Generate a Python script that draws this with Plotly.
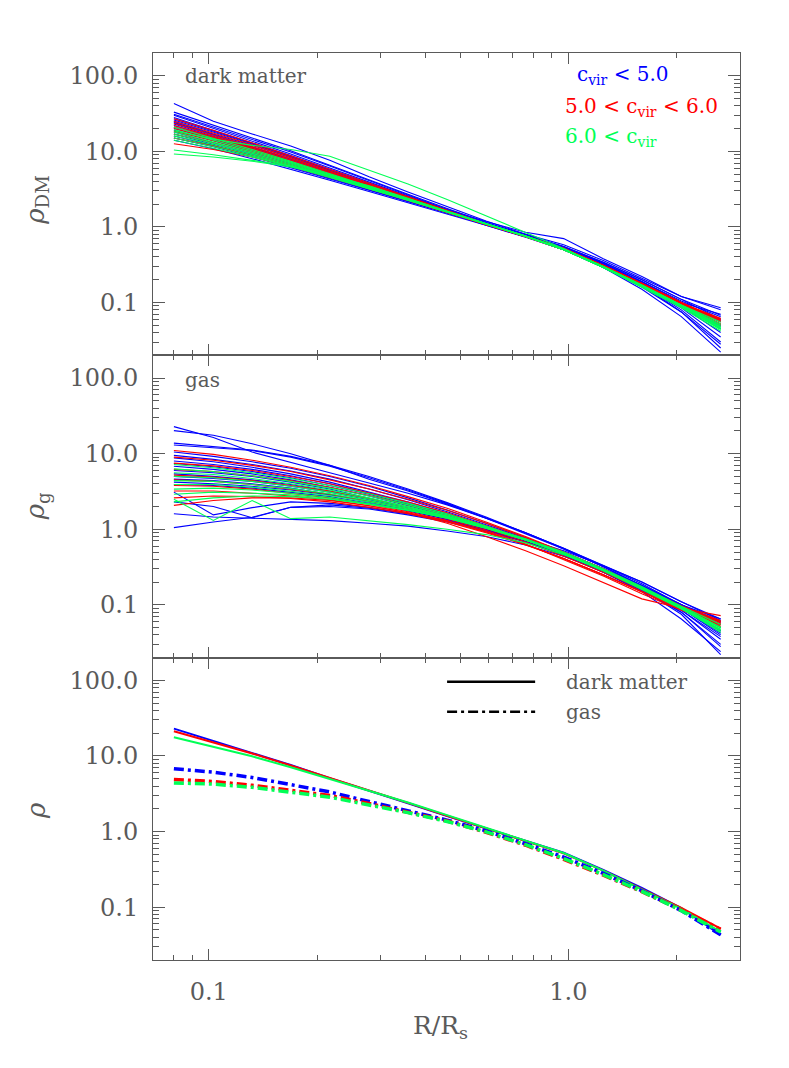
import plotly.graph_objects as go

# radius bins in units of R_s
R = [0.080, 0.103, 0.132, 0.169, 0.217, 0.279, 0.358, 0.460, 0.590, 0.760, 0.970, 1.250, 1.600, 2.060, 2.650]

# dark matter profiles, one list per halo
dm_low_c = [
    [43, 25, 17, 11.8, 7.6, 4.6, 2.9, 1.85, 1.2, 0.8, 0.54, 0.32, 0.18, 0.095, 0.045],
    [33, 22, 15, 10.2, 6.5, 4.2, 2.7, 1.75, 1.15, 0.78, 0.53, 0.32, 0.185, 0.1, 0.05],
    [31, 21, 14.5, 9.8, 6.4, 4.1, 2.65, 1.7, 1.12, 0.76, 0.51, 0.3, 0.17, 0.085, 0.035],
    [30, 20, 13.5, 9.2, 6.0, 3.9, 2.55, 1.68, 1.12, 0.78, 0.55, 0.34, 0.2, 0.11, 0.06],
    [28, 19, 13, 8.8, 5.8, 3.8, 2.5, 1.65, 1.1, 0.76, 0.52, 0.31, 0.17, 0.075, 0.025],
    [26, 18, 12.5, 8.5, 5.6, 3.7, 2.45, 1.62, 1.1, 0.77, 0.54, 0.33, 0.19, 0.105, 0.065],
    [25, 17, 12, 8.2, 5.4, 3.6, 2.42, 1.63, 1.12, 0.78, 0.53, 0.32, 0.18, 0.1, 0.07],
    [24, 16.5, 11.5, 7.9, 5.3, 3.55, 2.38, 1.6, 1.1, 0.75, 0.5, 0.29, 0.15, 0.065, 0.022],
    [23, 16, 11, 7.6, 5.1, 3.45, 2.35, 1.6, 1.12, 0.8, 0.58, 0.36, 0.21, 0.12, 0.085],
    [22, 15.5, 10.8, 7.5, 5.1, 3.5, 2.4, 1.62, 1.1, 0.76, 0.52, 0.31, 0.175, 0.095, 0.055],
    [21, 15, 10.5, 7.3, 5.0, 3.4, 2.32, 1.58, 1.08, 0.75, 0.51, 0.3, 0.17, 0.09, 0.048],
    [20, 14.5, 10.2, 7.1, 4.9, 3.35, 2.3, 1.58, 1.1, 0.77, 0.53, 0.32, 0.18, 0.098, 0.058],
    [19, 13.8, 9.8, 6.9, 4.75, 3.3, 2.28, 1.58, 1.1, 0.77, 0.54, 0.33, 0.19, 0.1, 0.045],
    [18, 13, 9.4, 6.7, 4.6, 3.2, 2.22, 1.55, 1.08, 0.75, 0.52, 0.31, 0.17, 0.08, 0.03],
    [17, 12.5, 9.1, 6.5, 4.5, 3.15, 2.2, 1.54, 1.08, 0.76, 0.53, 0.32, 0.18, 0.095, 0.05],
    [16, 12, 8.8, 6.3, 4.4, 3.1, 2.18, 1.55, 1.1, 0.78, 0.55, 0.34, 0.2, 0.11, 0.068],
    [15, 11.5, 8.5, 6.1, 4.3, 3.05, 2.15, 1.52, 1.08, 0.76, 0.52, 0.31, 0.175, 0.09, 0.04],
    [14, 10.8, 8.0, 5.8, 4.15, 2.95, 2.1, 1.5, 1.06, 0.74, 0.5, 0.29, 0.16, 0.075, 0.028],
    [27, 18.5, 12.8, 8.6, 5.6, 3.6, 2.35, 1.55, 1.05, 0.73, 0.5, 0.3, 0.17, 0.09, 0.06],
    [24, 16.5, 11.5, 8.0, 5.4, 3.6, 2.45, 1.7, 1.18, 0.85, 0.7, 0.38, 0.22, 0.12, 0.08],
]
dm_mid_c = [
    [27, 19, 13, 8.8, 5.8, 3.8, 2.5, 1.65, 1.1, 0.76, 0.52, 0.31, 0.18, 0.1, 0.06],
    [25, 17.5, 12.2, 8.3, 5.5, 3.65, 2.45, 1.64, 1.1, 0.76, 0.52, 0.31, 0.18, 0.1, 0.058],
    [23.5, 16.6, 11.6, 8.0, 5.35, 3.6, 2.42, 1.63, 1.1, 0.76, 0.52, 0.31, 0.178, 0.099, 0.056],
    [22, 15.8, 11.2, 7.7, 5.2, 3.52, 2.38, 1.6, 1.09, 0.75, 0.51, 0.305, 0.175, 0.098, 0.062],
    [21, 15.2, 10.8, 7.5, 5.1, 3.48, 2.36, 1.6, 1.09, 0.75, 0.51, 0.3, 0.172, 0.096, 0.055],
    [20, 14.6, 10.4, 7.3, 5.0, 3.42, 2.33, 1.58, 1.08, 0.75, 0.51, 0.3, 0.172, 0.095, 0.052],
    [18.5, 13.8, 10, 7.1, 4.9, 3.38, 2.32, 1.58, 1.08, 0.75, 0.51, 0.3, 0.17, 0.094, 0.05],
    [17, 13, 9.5, 6.8, 4.75, 3.3, 2.28, 1.56, 1.07, 0.74, 0.5, 0.295, 0.168, 0.093, 0.052],
    [15, 11.8, 8.9, 6.5, 4.6, 3.22, 2.25, 1.55, 1.07, 0.74, 0.5, 0.295, 0.17, 0.095, 0.056],
    [12.6, 10.6, 8.4, 6.3, 4.5, 3.2, 2.25, 1.55, 1.07, 0.74, 0.5, 0.3, 0.172, 0.097, 0.06],
]
dm_high_c = [
    [18.7, 14.5, 12.0, 10.6, 8.6, 5.7, 3.7, 2.3, 1.4, 0.85, 0.52, 0.29, 0.16, 0.085, 0.042],
    [21, 15, 10.6, 7.4, 5.05, 3.45, 2.36, 1.6, 1.1, 0.76, 0.51, 0.3, 0.168, 0.092, 0.048],
    [19.5, 14.2, 10.2, 7.2, 4.95, 3.4, 2.34, 1.6, 1.09, 0.75, 0.5, 0.295, 0.166, 0.09, 0.046],
    [18, 13.4, 9.8, 7.0, 4.85, 3.35, 2.32, 1.6, 1.1, 0.76, 0.51, 0.3, 0.168, 0.09, 0.045],
    [17, 12.8, 9.4, 6.8, 4.75, 3.32, 2.3, 1.6, 1.1, 0.76, 0.51, 0.3, 0.17, 0.092, 0.05],
    [16, 12.2, 9.0, 6.6, 4.65, 3.28, 2.28, 1.58, 1.09, 0.75, 0.5, 0.29, 0.163, 0.088, 0.044],
    [15, 11.6, 8.7, 6.4, 4.55, 3.24, 2.27, 1.58, 1.09, 0.75, 0.5, 0.29, 0.164, 0.09, 0.047],
    [14, 11, 8.4, 6.3, 4.5, 3.2, 2.26, 1.58, 1.1, 0.76, 0.51, 0.3, 0.168, 0.092, 0.052],
    [10.4, 9.0, 7.6, 6.4, 4.8, 3.2, 2.25, 1.55, 1.07, 0.75, 0.5, 0.29, 0.165, 0.09, 0.045],
    [9.2, 8.4, 7.4, 6.2, 4.8, 3.5, 2.4, 1.6, 1.1, 0.76, 0.51, 0.3, 0.17, 0.093, 0.055],
]

# gas profiles
gas_low_c = [
    [22.8, 16.4, 10.5, 7.6, 5.6, 4.1, 3.0, 2.1, 1.4, 0.9, 0.56, 0.33, 0.19, 0.1, 0.05],
    [20.2, 17.5, 13.5, 10.0, 7.0, 4.6, 3.2, 2.15, 1.4, 0.88, 0.55, 0.32, 0.18, 0.095, 0.045],
    [13.8, 12.5, 11.2, 9.2, 7.0, 5.0, 3.4, 2.25, 1.45, 0.9, 0.55, 0.32, 0.18, 0.1, 0.055],
    [13.0, 12.0, 11.0, 9.0, 6.8, 4.8, 3.3, 2.2, 1.42, 0.9, 0.56, 0.33, 0.2, 0.11, 0.062],
    [10.5, 9.2, 7.8, 6.4, 5.0, 3.7, 2.6, 1.8, 1.2, 0.78, 0.5, 0.3, 0.17, 0.09, 0.04],
    [9.5, 8.4, 7.2, 5.9, 4.6, 3.4, 2.45, 1.7, 1.15, 0.76, 0.49, 0.3, 0.175, 0.1, 0.06],
    [8.8, 7.8, 6.6, 5.4, 4.2, 3.1, 2.3, 1.62, 1.1, 0.74, 0.48, 0.29, 0.17, 0.095, 0.05],
    [8.0, 7.2, 6.2, 5.1, 4.0, 3.0, 2.2, 1.56, 1.07, 0.72, 0.47, 0.28, 0.16, 0.085, 0.038],
    [7.4, 6.7, 5.8, 4.8, 3.8, 2.9, 2.15, 1.55, 1.07, 0.72, 0.48, 0.3, 0.18, 0.1, 0.065],
    [6.8, 6.2, 5.4, 4.5, 3.6, 2.75, 2.05, 1.5, 1.05, 0.72, 0.48, 0.29, 0.165, 0.08, 0.028],
    [6.0, 5.6, 5.0, 4.2, 3.4, 2.6, 1.95, 1.45, 1.03, 0.71, 0.47, 0.29, 0.17, 0.092, 0.045],
    [5.4, 5.0, 4.5, 3.9, 3.2, 2.5, 1.9, 1.42, 1.02, 0.71, 0.48, 0.3, 0.18, 0.1, 0.058],
    [4.6, 4.4, 4.0, 3.5, 2.9, 2.3, 1.8, 1.36, 0.99, 0.69, 0.46, 0.28, 0.16, 0.075, 0.022],
    [3.9, 3.8, 3.5, 3.1, 2.7, 2.2, 1.75, 1.35, 0.99, 0.7, 0.48, 0.3, 0.18, 0.1, 0.05],
    [3.1, 1.55, 1.93, 2.3, 2.2, 1.95, 1.6, 1.3, 0.98, 0.7, 0.47, 0.29, 0.17, 0.09, 0.042],
    [2.3, 2.0, 1.42, 1.95, 2.0, 1.85, 1.55, 1.25, 0.95, 0.68, 0.46, 0.28, 0.16, 0.085, 0.035],
    [1.05, 1.25, 1.44, 1.95, 2.1, 1.9, 1.6, 1.3, 0.97, 0.68, 0.45, 0.27, 0.155, 0.08, 0.03],
    [1.6, 1.45, 1.4, 1.35, 1.3, 1.2, 1.1, 0.95, 0.8, 0.62, 0.44, 0.28, 0.17, 0.098, 0.06],
    [4.2, 4.0, 3.7, 3.3, 2.85, 2.35, 1.85, 1.42, 1.05, 0.75, 0.52, 0.33, 0.2, 0.11, 0.065],
    [5.0, 4.7, 4.3, 3.7, 3.1, 2.45, 1.88, 1.4, 1.0, 0.7, 0.46, 0.27, 0.15, 0.065, 0.024],
]
gas_mid_c = [
    [11.0, 9.8, 8.2, 6.6, 5.1, 3.8, 2.7, 1.9, 1.25, 0.8, 0.5, 0.3, 0.17, 0.095, 0.06],
    [9.0, 8.2, 7.0, 5.8, 4.5, 3.4, 2.5, 1.78, 1.2, 0.78, 0.5, 0.3, 0.17, 0.097, 0.062],
    [7.5, 6.9, 6.0, 5.0, 4.0, 3.05, 2.3, 1.65, 1.12, 0.74, 0.48, 0.29, 0.165, 0.095, 0.055],
    [6.2, 5.8, 5.1, 4.4, 3.6, 2.8, 2.1, 1.55, 1.08, 0.72, 0.47, 0.285, 0.165, 0.095, 0.058],
    [5.2, 4.9, 4.4, 3.8, 3.2, 2.55, 1.95, 1.45, 1.02, 0.68, 0.44, 0.27, 0.16, 0.092, 0.052],
    [4.5, 4.3, 3.9, 3.4, 2.9, 2.35, 1.85, 1.38, 0.97, 0.64, 0.4, 0.24, 0.14, 0.085, 0.055],
    [3.8, 3.7, 3.4, 3.0, 2.6, 2.15, 1.7, 1.3, 0.93, 0.63, 0.41, 0.25, 0.15, 0.088, 0.056],
    [3.2, 3.2, 3.0, 2.75, 2.45, 2.05, 1.65, 1.28, 0.92, 0.63, 0.41, 0.25, 0.148, 0.087, 0.054],
    [2.6, 2.75, 2.7, 2.55, 2.3, 1.95, 1.6, 1.25, 0.9, 0.62, 0.41, 0.25, 0.15, 0.09, 0.06],
    [2.07, 2.4, 2.6, 2.6, 2.4, 2.05, 1.65, 1.2, 0.8, 0.52, 0.33, 0.2, 0.12, 0.09, 0.072],
]
gas_high_c = [
    [7.2, 6.5, 5.6, 4.7, 3.8, 2.95, 2.2, 1.6, 1.1, 0.74, 0.48, 0.29, 0.17, 0.095, 0.05],
    [6.3, 5.8, 5.1, 4.3, 3.5, 2.75, 2.1, 1.55, 1.08, 0.73, 0.48, 0.29, 0.165, 0.09, 0.048],
    [5.6, 5.3, 4.7, 4.0, 3.3, 2.6, 2.0, 1.5, 1.06, 0.72, 0.47, 0.285, 0.165, 0.092, 0.05],
    [5.0, 4.8, 4.3, 3.7, 3.1, 2.5, 1.95, 1.48, 1.06, 0.72, 0.47, 0.28, 0.16, 0.088, 0.045],
    [4.4, 4.3, 3.9, 3.45, 2.95, 2.4, 1.9, 1.45, 1.05, 0.72, 0.48, 0.29, 0.165, 0.09, 0.047],
    [3.9, 3.9, 3.6, 3.2, 2.8, 2.3, 1.85, 1.43, 1.04, 0.72, 0.48, 0.29, 0.168, 0.092, 0.05],
    [3.4, 3.5, 3.3, 3.0, 2.65, 2.2, 1.8, 1.4, 1.03, 0.72, 0.48, 0.29, 0.168, 0.092, 0.046],
    [2.5, 1.31, 2.4, 1.38, 1.45, 1.3, 1.15, 1.0, 0.85, 0.66, 0.46, 0.29, 0.17, 0.09, 0.043],
    [2.9, 3.1, 3.0, 2.85, 2.55, 2.15, 1.78, 1.4, 1.03, 0.72, 0.48, 0.29, 0.165, 0.09, 0.05],
    [2.3, 2.6, 2.75, 2.7, 2.5, 2.15, 1.78, 1.42, 1.06, 0.75, 0.5, 0.3, 0.175, 0.096, 0.055],
]

# stacked (mean) profiles per concentration bin
dm_mean = {
    "low": [23.0, 15.8, 11.0, 7.6, 5.1, 3.5, 2.37, 1.6, 1.1, 0.765, 0.525, 0.31, 0.18, 0.097, 0.043],
    "mid": [21.2, 15.2, 10.8, 7.5, 5.15, 3.52, 2.4, 1.62, 1.1, 0.76, 0.515, 0.305, 0.174, 0.098, 0.052],
    "high": [17.7, 13.3, 9.9, 7.1, 5.0, 3.5, 2.42, 1.65, 1.12, 0.77, 0.52, 0.305, 0.172, 0.095, 0.047],
}
gas_mean = {
    "low": [6.8, 6.1, 5.2, 4.2, 3.35, 2.5, 1.9, 1.42, 1.02, 0.69, 0.46, 0.28, 0.165, 0.09, 0.043],
    "mid": [4.9, 4.6, 4.1, 3.55, 3.0, 2.35, 1.82, 1.38, 0.98, 0.66, 0.43, 0.265, 0.16, 0.092, 0.051],
    "high": [4.4, 4.25, 3.85, 3.35, 2.85, 2.25, 1.78, 1.36, 0.99, 0.67, 0.44, 0.27, 0.162, 0.09, 0.047],
}

colors = {"low": "#0000ff", "mid": "#ff0000", "high": "#00ff55"}
txt = "#5a5a5a"
font_family = "DejaVu Serif"
dashdot = "10px,4px,3px,4px"

fig = go.Figure()

panels = [
    ("x", "y", {"low": dm_low_c, "mid": dm_mid_c, "high": dm_high_c}),
    ("x2", "y2", {"low": gas_low_c, "mid": gas_mid_c, "high": gas_high_c}),
]
for xa, ya, groups in panels:
    for key in ["low", "mid", "high"]:
        for prof in groups[key]:
            fig.add_trace(go.Scatter(x=R, y=prof, mode="lines", xaxis=xa, yaxis=ya,
                                     line=dict(color=colors[key], width=1.1),
                                     showlegend=False, hoverinfo="skip"))

for key in ["low", "mid", "high"]:
    fig.add_trace(go.Scatter(x=R, y=dm_mean[key], mode="lines", xaxis="x3", yaxis="y3",
                             line=dict(color=colors[key], width=2), showlegend=False))
for key in ["low", "mid", "high"]:
    fig.add_trace(go.Scatter(x=R, y=gas_mean[key], mode="lines", xaxis="x3", yaxis="y3",
                             line=dict(color=colors[key], width=3.5, dash=dashdot),
                             showlegend=False))

xrange = [-1.155, 0.477]   # 0.07 .. 3
yrange = [-1.699, 2.301]   # 0.02 .. 200

axis_common = dict(type="log", showline=True, linecolor=txt, linewidth=1, mirror="ticks",
                   ticks="inside", tickcolor=txt, showgrid=False, zeroline=False,
                   tickfont=dict(family=font_family, size=24, color=txt),
                   tickformat=".1f", tickmode="linear", tick0=0, dtick=1)

doms = {"": [2 / 3, 1], "2": [1 / 3, 2 / 3], "3": [0, 1 / 3]}
for s, d in doms.items():
    fig.update_layout(**{
        "xaxis" + s: dict(axis_common, range=xrange, anchor="y" + s, ticklen=11,
                          showticklabels=(s == "3"), ticklabelstandoff=10,
                          minor=dict(ticks="inside", ticklen=5, dtick="D1", tickcolor=txt)),
        "yaxis" + s: dict(axis_common, range=yrange, domain=d, anchor="x" + s, ticklen=12,
                          ticklabelstandoff=9,
                          minor=dict(ticks="inside", ticklen=6, dtick="D1", tickcolor=txt)),
    })

def ann(text, x, y, size=20, color=txt, xanchor="left", **kw):
    fig.add_annotation(text=text, x=x, y=y, xref="paper", yref="paper", showarrow=False,
                       xanchor=xanchor, yanchor="middle",
                       font=dict(family=font_family, size=size, color=color), **kw)

ann("dark matter", 0.051, 0.9747)
ann("gas", 0.051, 0.6395)
ann("c<sub>vir</sub> &lt; 5.0", 0.719, 0.9757, color=colors["low"])
ann("5.0 &lt; c<sub>vir</sub> &lt; 6.0", 0.6985, 0.9408, color=colors["mid"])
ann("6.0 &lt; c<sub>vir</sub>", 0.6985, 0.9077, color=colors["high"])

# legend for the bottom panel
fig.add_shape(type="line", xref="paper", yref="paper", x0=0.501, x1=0.651, y0=0.3068, y1=0.3068,
              line=dict(color="black", width=2.5))
fig.add_shape(type="line", xref="paper", yref="paper", x0=0.501, x1=0.651, y0=0.2738, y1=0.2738,
              line=dict(color="black", width=2.5, dash=dashdot))
ann("dark matter", 0.700, 0.3068)
ann("gas", 0.700, 0.2738)

# axis titles
ann("<i>ρ</i><sub>DM</sub>", -0.198, 0.838, size=26, xanchor="center", textangle=-90)
ann("<i>ρ</i><sub>g</sub>", -0.198, 0.500, size=26, xanchor="center", textangle=-90)
ann("<i>ρ</i>", -0.198, 0.165, size=26, xanchor="center", textangle=-90)
ann("R/R<sub>s</sub>", 0.4906, -0.074, size=25, xanchor="center")

# page body adds an 8px offset, so the figure is shrunk to keep the axes in place
fig.update_layout(width=781, height=1060, plot_bgcolor="white", paper_bgcolor="white",
                  margin=dict(l=145, r=49, t=45, b=108), showlegend=False)

fig.write_html("out.html")
